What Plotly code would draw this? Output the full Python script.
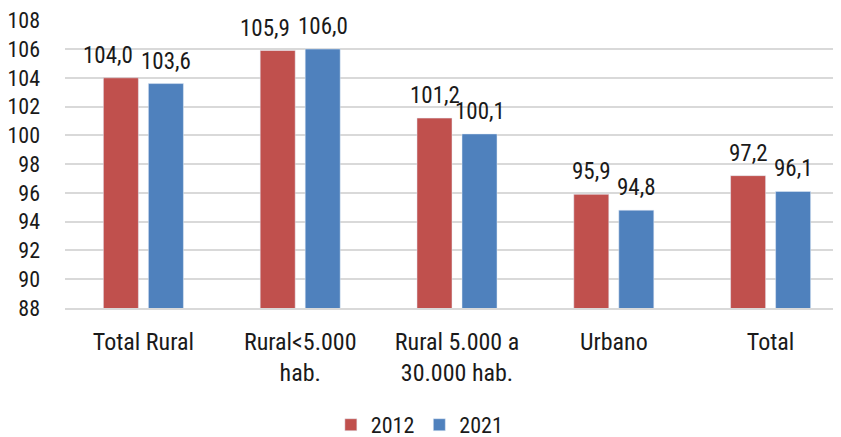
import plotly.graph_objects as go

categories = ["Total Rural", "Rural<5.000<br>hab.", "Rural 5.000 a<br>30.000 hab.", "Urbano", "Total"]
series_2012 = [104.0, 105.9, 101.2, 95.9, 97.2]
series_2021 = [103.6, 106.0, 100.1, 94.8, 96.1]
y_ticks = list(range(88, 109, 2))

def fmt(v):
    return f"{v:.1f}".replace(".", ",")

FONT = "Roboto Condensed, DejaVu Sans Condensed, sans-serif"
RED, BLUE = "#C0504D", "#4F81BD"
TXT = "#1a1a1a"

fig = go.Figure()
fig.add_bar(x=categories, y=series_2012, name="2012", marker_color=RED)
fig.add_bar(x=categories, y=series_2021, name="2021", marker_color=BLUE)

# value labels (Excel-like: red label nudged left when it would collide with the blue one)
for cat, a, b in zip(categories, series_2012, series_2021):
    collide = abs(a - b) < 1.0
    fig.add_annotation(x=cat, y=a, xref="x", yref="y", text=fmt(a), showarrow=False,
                       xanchor="center", yanchor="bottom", xshift=-22.5 - (13 if collide else 0),
                       yshift=7, font=dict(size=23, color=TXT, family=FONT))
    fig.add_annotation(x=cat, y=b, xref="x", yref="y", text=fmt(b), showarrow=False,
                       xanchor="center", yanchor="bottom", xshift=22.5,
                       yshift=7, font=dict(size=23, color=TXT, family=FONT))

fig.update_layout(
    width=841, height=437,
    margin=dict(l=57, r=0, t=12, b=137, autoexpand=False),
    paper_bgcolor="white", plot_bgcolor="white",
    font=dict(family=FONT, size=22, color=TXT),
    barmode="group", bargap=0.426, bargroupgap=0.222,
    showlegend=True,
    legend=dict(orientation="h", x=0.452, xanchor="center", y=-0.406, yanchor="middle",
                font=dict(size=22), itemwidth=30, traceorder="normal"),
)
fig.update_yaxes(range=[88, 108.02], tickvals=y_ticks, showgrid=True, gridcolor="#d9d9d9",
                 gridwidth=1.5, zeroline=False, showline=False, ticks="", automargin=False,
                 tickfont=dict(size=22), ticklabelstandoff=24, ticklabeloverflow="allow")
fig.update_xaxes(showline=True, linecolor="#d9d9d9", linewidth=1.5, ticks="", automargin=False,
                 tickfont=dict(size=24), ticklabelstandoff=11)

fig.write_html("out.html")
